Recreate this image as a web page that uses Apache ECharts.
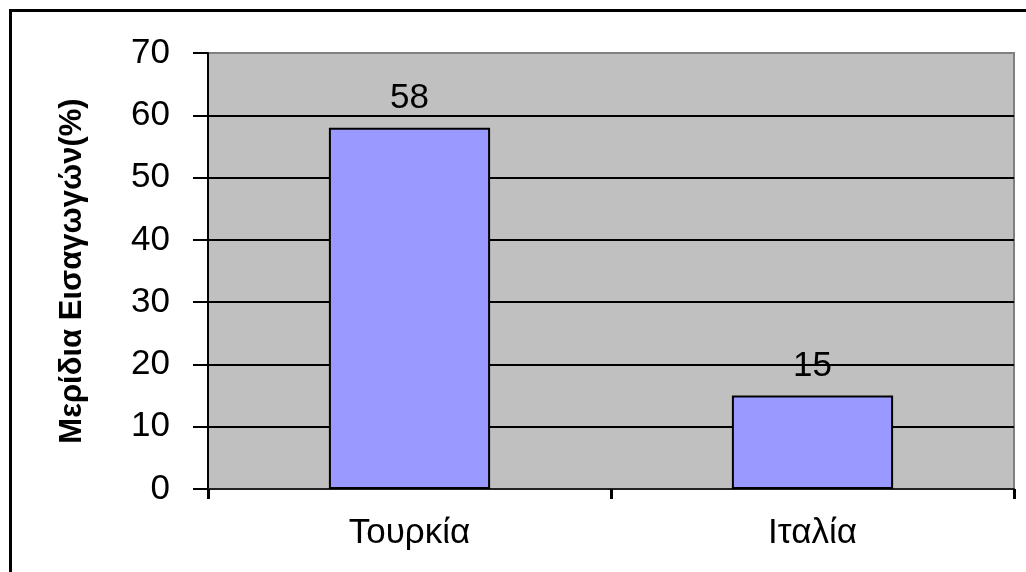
<!DOCTYPE html>
<html>
<head>
<meta charset="utf-8">
<script src="https://cdn.jsdelivr.net/npm/echarts@6/dist/echarts.min.js"></script>
<style>
  html, body { margin: 0; padding: 0; background: #fff; }
  #chart { width: 1026px; height: 572px; }
</style>
</head>
<body>
<div id="chart"></div>
<script>
(function () {
    'use strict';

    // chart data
    var countries = ['Τουρκία', 'Ιταλία'];
    var shares = [58, 15];
    var yTitle = 'Μερίδια Εισαγωγών(%)';

    var font = '"Liberation Sans", Arial, sans-serif';
    // split lines: black, top edge gray like the plot frame
    var gridColors = ['#000', '#000', '#000', '#000', '#000', '#000', '#000', '#808080'];

    var chart = echarts.init(document.getElementById('chart'), null, {renderer: 'canvas'});

    chart.setOption({
        animation: false,
        backgroundColor: '#fff',
        textStyle: {fontFamily: font, color: '#000'},
        grid: {
            left: 208, top: 53, right: 12, bottom: 83,
            show: true,
            backgroundColor: '#c0c0c0',
            borderColor: '#808080',
            borderWidth: 2
        },
        graphic: [{
            type: 'rect',
            left: 8, top: 8,
            shape: {width: 1200, height: 800},
            style: {fill: 'none', stroke: '#000', lineWidth: 3},
            silent: true
        }],
        xAxis: {
            type: 'category',
            data: countries,
            boundaryGap: true,
            axisLine: {lineStyle: {color: '#222', width: 2}},
            axisTick: {show: true, alignWithLabel: false, length: 10, lineStyle: {color: '#000', width: 3}},
            axisLabel: {margin: 27, fontSize: 35, fontFamily: font, color: '#000'},
            splitLine: {show: false}
        },
        yAxis: {
            type: 'value',
            min: 0, max: 70, interval: 10,
            name: yTitle,
            nameLocation: 'middle',
            nameGap: 120,
            nameRotate: 90,
            nameTextStyle: {fontSize: 31, fontWeight: 'bold', fontFamily: font, color: '#000'},
            axisLine: {show: true, lineStyle: {color: '#000', width: 2}},
            axisTick: {show: true, length: 15, lineStyle: {color: '#000', width: 2}},
            axisLabel: {margin: 38, fontSize: 35, fontFamily: font, color: '#000'},
            splitLine: {show: true, lineStyle: {color: gridColors, width: 2}}
        },
        series: [{
            type: 'bar',
            data: shares,
            barWidth: '40%',
            itemStyle: {color: '#9999ff', borderColor: '#000', borderWidth: 2},
            label: {
                show: true,
                position: 'top',
                distance: 12,
                fontSize: 35,
                fontFamily: font,
                color: '#000'
            }
        }]
    });
})();
</script>
</body>
</html>
